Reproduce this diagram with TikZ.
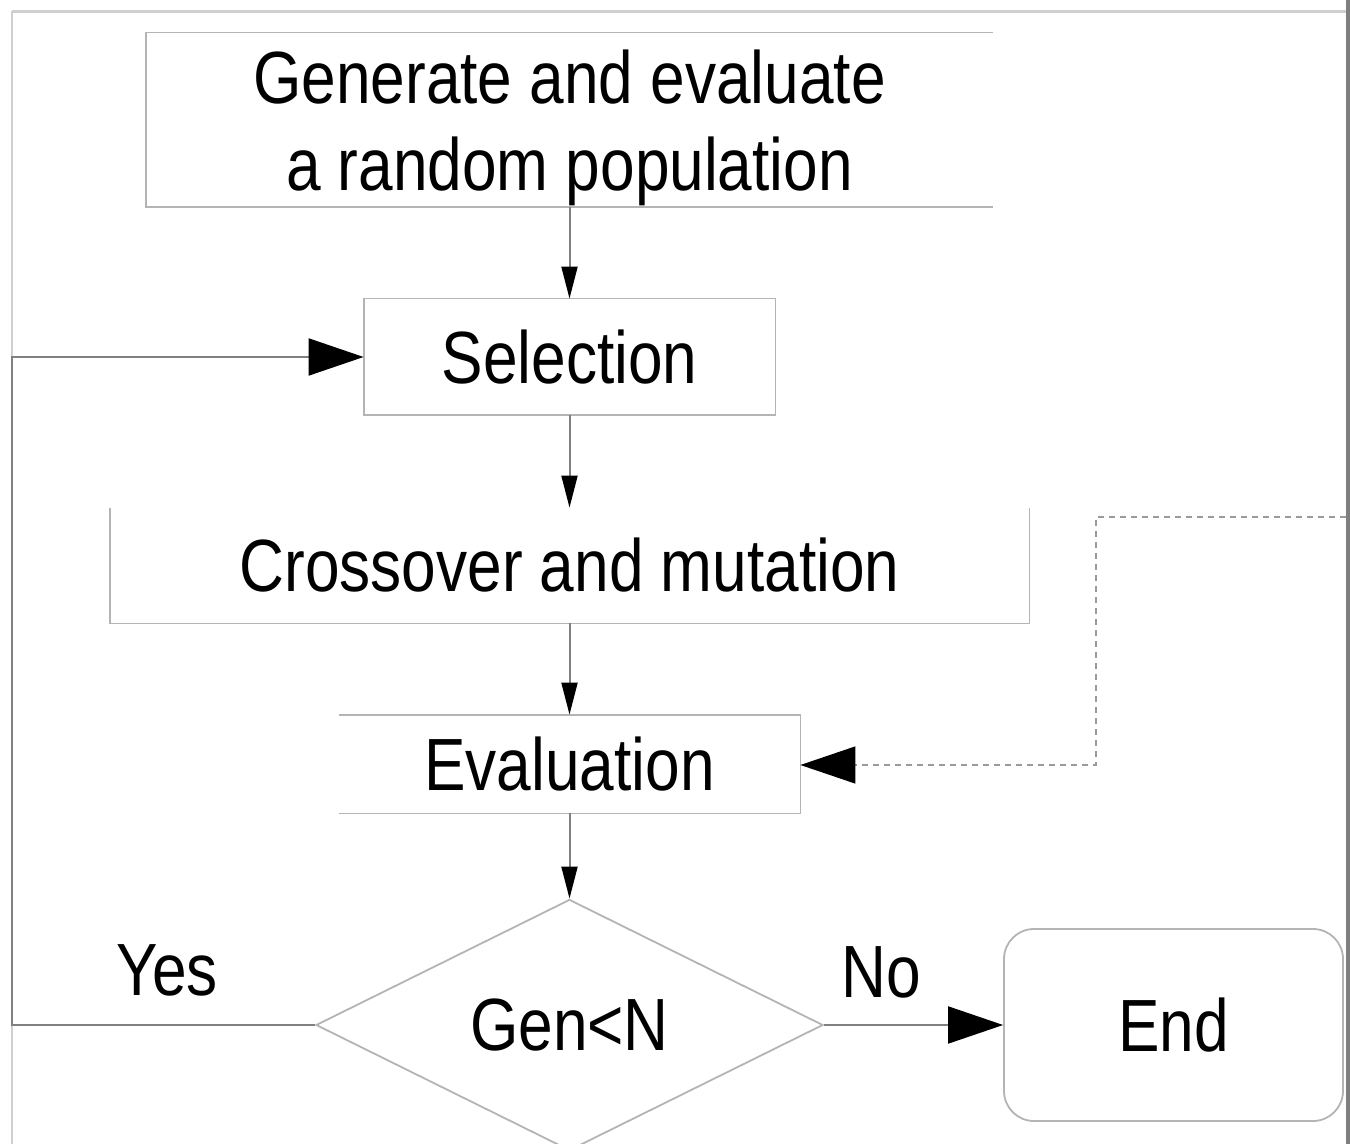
\documentclass[tikz,border=0pt]{standalone}
\usepackage{fontspec}
\setmainfont[FakeStretch=0.84]{Liberation Sans}
\usetikzlibrary{arrows.meta,shapes.geometric}
\definecolor{boxgray}{HTML}{B4B4B4}
\definecolor{linegray}{HTML}{808080}
\definecolor{framegray}{HTML}{CFCFCF}
\definecolor{bargray}{HTML}{7F7F7F}
\definecolor{dashgray}{HTML}{9A9A9A}
\tikzset{
  txt/.style={font=\fontsize{37pt}{43.5pt}\selectfont, inner sep=0pt, align=center, text=black},
  boxline/.style={draw=boxgray, line width=0.9pt, line join=miter},
  conn/.style={draw=linegray, line width=1pt},
  smalltip/.style={-{Triangle[length=16pt,width=8pt,color=black]}},
  bigtip/.style={-{Triangle[length=27.5pt,width=18.5pt,color=black]}},
}
\begin{document}
\begin{tikzpicture}[x=0.5pt,y=-0.5pt]
\useasboundingbox (0,0) rectangle (1350,1144);
% frame
\draw[framegray, line width=1.5pt] (12,11.5) -- (1346,11.5);
\draw[framegray, line width=1pt] (12,11) -- (12,1144);
\fill[bargray] (1345.5,0) rectangle (1350,1144);
% nodes
\node[txt, text depth=0pt, minimum width=423pt, minimum height=87pt] (gen) at (569.5,120) {Generate and evaluate\\a random population};
\node[txt, minimum width=205.5pt, minimum height=58pt] (sel) at (569.5,357) {Selection};
\node[txt, minimum width=459.5pt, minimum height=57.5pt] (cross) at (569.5,565.5) {Crossover and mutation};
\node[txt, minimum width=230.5pt, minimum height=49pt] (eval) at (569.5,764) {Evaluation};
\node[txt, diamond, boxline, minimum width=253.5pt, minimum height=118pt] (dia) at (569.5,1025) {Gen<N};
\node[txt, boxline, rounded corners=15pt, minimum width=169.5pt, minimum height=96pt] (end) at (1173.5,1025) {End};
\node[txt] (yes) at (167,970) {Yes};
\node[txt] (no) at (881,972) {No};
% partial box borders
\draw[boxline] (gen.north east) -- (gen.north west) -- (gen.south west) -- (gen.south east);
\draw[boxline] (sel.north west) rectangle (sel.south east);
\draw[boxline] (cross.north west) -- (cross.south west) -- (cross.south east) -- (cross.north east);
\draw[boxline] (eval.north west) -- (eval.north east) -- (eval.south east) -- (eval.south west);
% connectors
\draw[conn, smalltip] (gen.south) -- (sel.north);
\draw[conn, smalltip] (sel.south) -- (cross.north);
\draw[conn, smalltip] (cross.south) -- (eval.north);
\draw[conn, smalltip] (eval.south) -- (dia.north);
\coordinate (loopT) at (12,357);
\coordinate (loopB) at (loopT |- dia.west);
\draw[conn, bigtip] (dia.west) -- (loopB) -- (loopT) -- (sel.west);
\draw[conn, bigtip] (dia.east) -- (end.west);
\coordinate (dA) at (1346,517);
\coordinate (dB) at (1096,517);
\coordinate (dC) at (1096,765);
\draw[draw=dashgray, line width=0.7pt, dash pattern=on 3pt off 2.5pt, bigtip] (dA) -- (dB) -- (dC) -- (eval.east |- dC);
\end{tikzpicture}
\end{document}
